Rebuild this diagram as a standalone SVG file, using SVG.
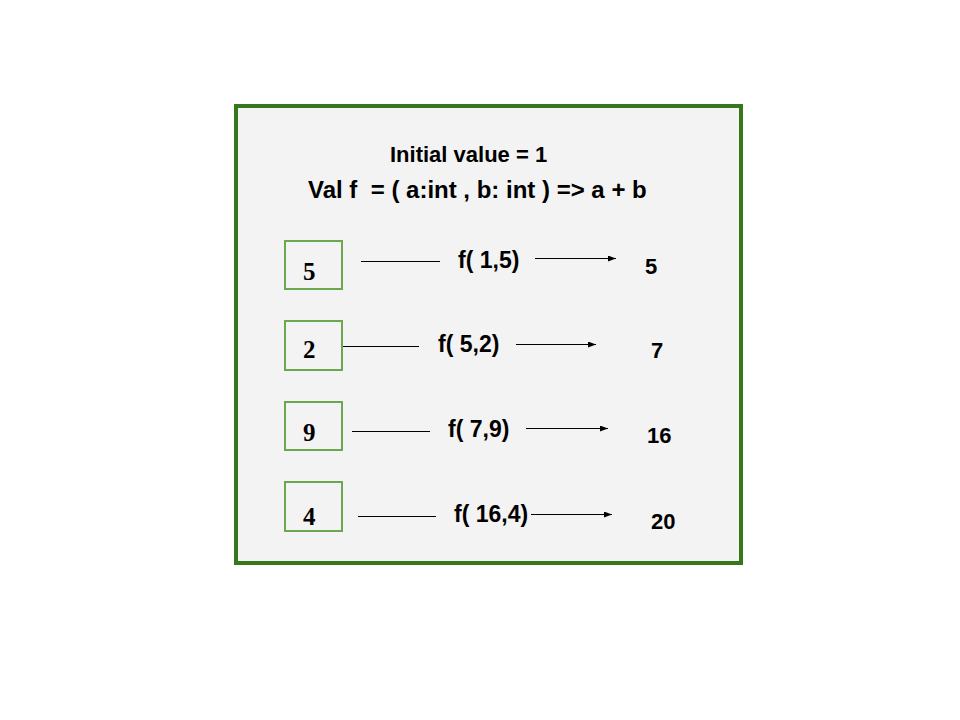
<svg xmlns="http://www.w3.org/2000/svg" width="960" height="720" viewBox="0 0 960 720">
<defs>
<marker id="ah" markerUnits="userSpaceOnUse" markerWidth="9" markerHeight="7" refX="8" refY="3" orient="auto">
<path d="M0,0 L8,3 L0,6 Z" fill="#000"/>
</marker>
</defs>
<style>
.frame{fill:#f3f3f3;stroke:#38761d;stroke-width:4}
.box{fill:none;stroke:#6aa84f;stroke-width:2}
.num{font-family:"Liberation Serif","Times New Roman",serif;font-weight:bold;font-size:25px;fill:#000}
.t{font-family:"Liberation Sans",Arial,sans-serif;font-weight:bold;fill:#000}
.lbl{font-size:23px}
.res{font-size:22px}
.ln{stroke:#000;stroke-width:1;fill:none}
.arr{stroke:#000;stroke-width:1;fill:none;marker-end:url(#ah)}
</style>
<rect width="960" height="720" fill="#fff"/>
<g id="frame">
<rect class="frame" x="236" y="106" width="505" height="457"/>
</g>
<g id="title">
<text class="t" x="390" y="162" font-size="22">Initial value = 1</text>
<text class="t" x="308" y="198" font-size="24" xml:space="preserve">Val f  = ( a:int , b: int ) =&gt; a + b</text>
</g>
<g id="node-5">
<rect class="box" x="285" y="241" width="57" height="48"/>
<text class="num" x="303" y="280">5</text>
</g>
<g id="node-2">
<rect class="box" x="285" y="321" width="57" height="49"/>
<text class="num" x="303" y="358">2</text>
</g>
<g id="node-9">
<rect class="box" x="285" y="402" width="57" height="48"/>
<text class="num" x="303" y="441">9</text>
</g>
<g id="node-4">
<rect class="box" x="285" y="482" width="57" height="49"/>
<text class="num" x="303" y="525">4</text>
</g>
<g id="label-1"><text class="t lbl" x="458" y="268">f( 1,5)</text></g>
<g id="label-2"><text class="t lbl" x="438" y="352">f( 5,2)</text></g>
<g id="label-3"><text class="t lbl" x="448" y="437">f( 7,9)</text></g>
<g id="label-4"><text class="t lbl" x="454" y="522">f( 16,4)</text></g>
<g id="result-5"><text class="t res" x="645" y="274">5</text></g>
<g id="result-7"><text class="t res" x="651" y="358">7</text></g>
<g id="result-16"><text class="t res" x="647" y="443">16</text></g>
<g id="result-20"><text class="t res" x="651" y="529">20</text></g>
<g id="connectors">
<line class="ln" x1="361" y1="261.5" x2="440" y2="261.5"/>
<line class="arr" x1="535" y1="258.5" x2="616" y2="258.5"/>
<line class="ln" x1="343" y1="346.5" x2="419" y2="346.5"/>
<line class="arr" x1="516" y1="344.5" x2="596" y2="344.5"/>
<line class="ln" x1="352" y1="431.5" x2="430" y2="431.5"/>
<line class="arr" x1="526" y1="428.5" x2="608" y2="428.5"/>
<line class="ln" x1="358" y1="516.5" x2="436" y2="516.5"/>
<line class="arr" x1="531" y1="514.5" x2="612" y2="514.5"/>
</g>
</svg>
